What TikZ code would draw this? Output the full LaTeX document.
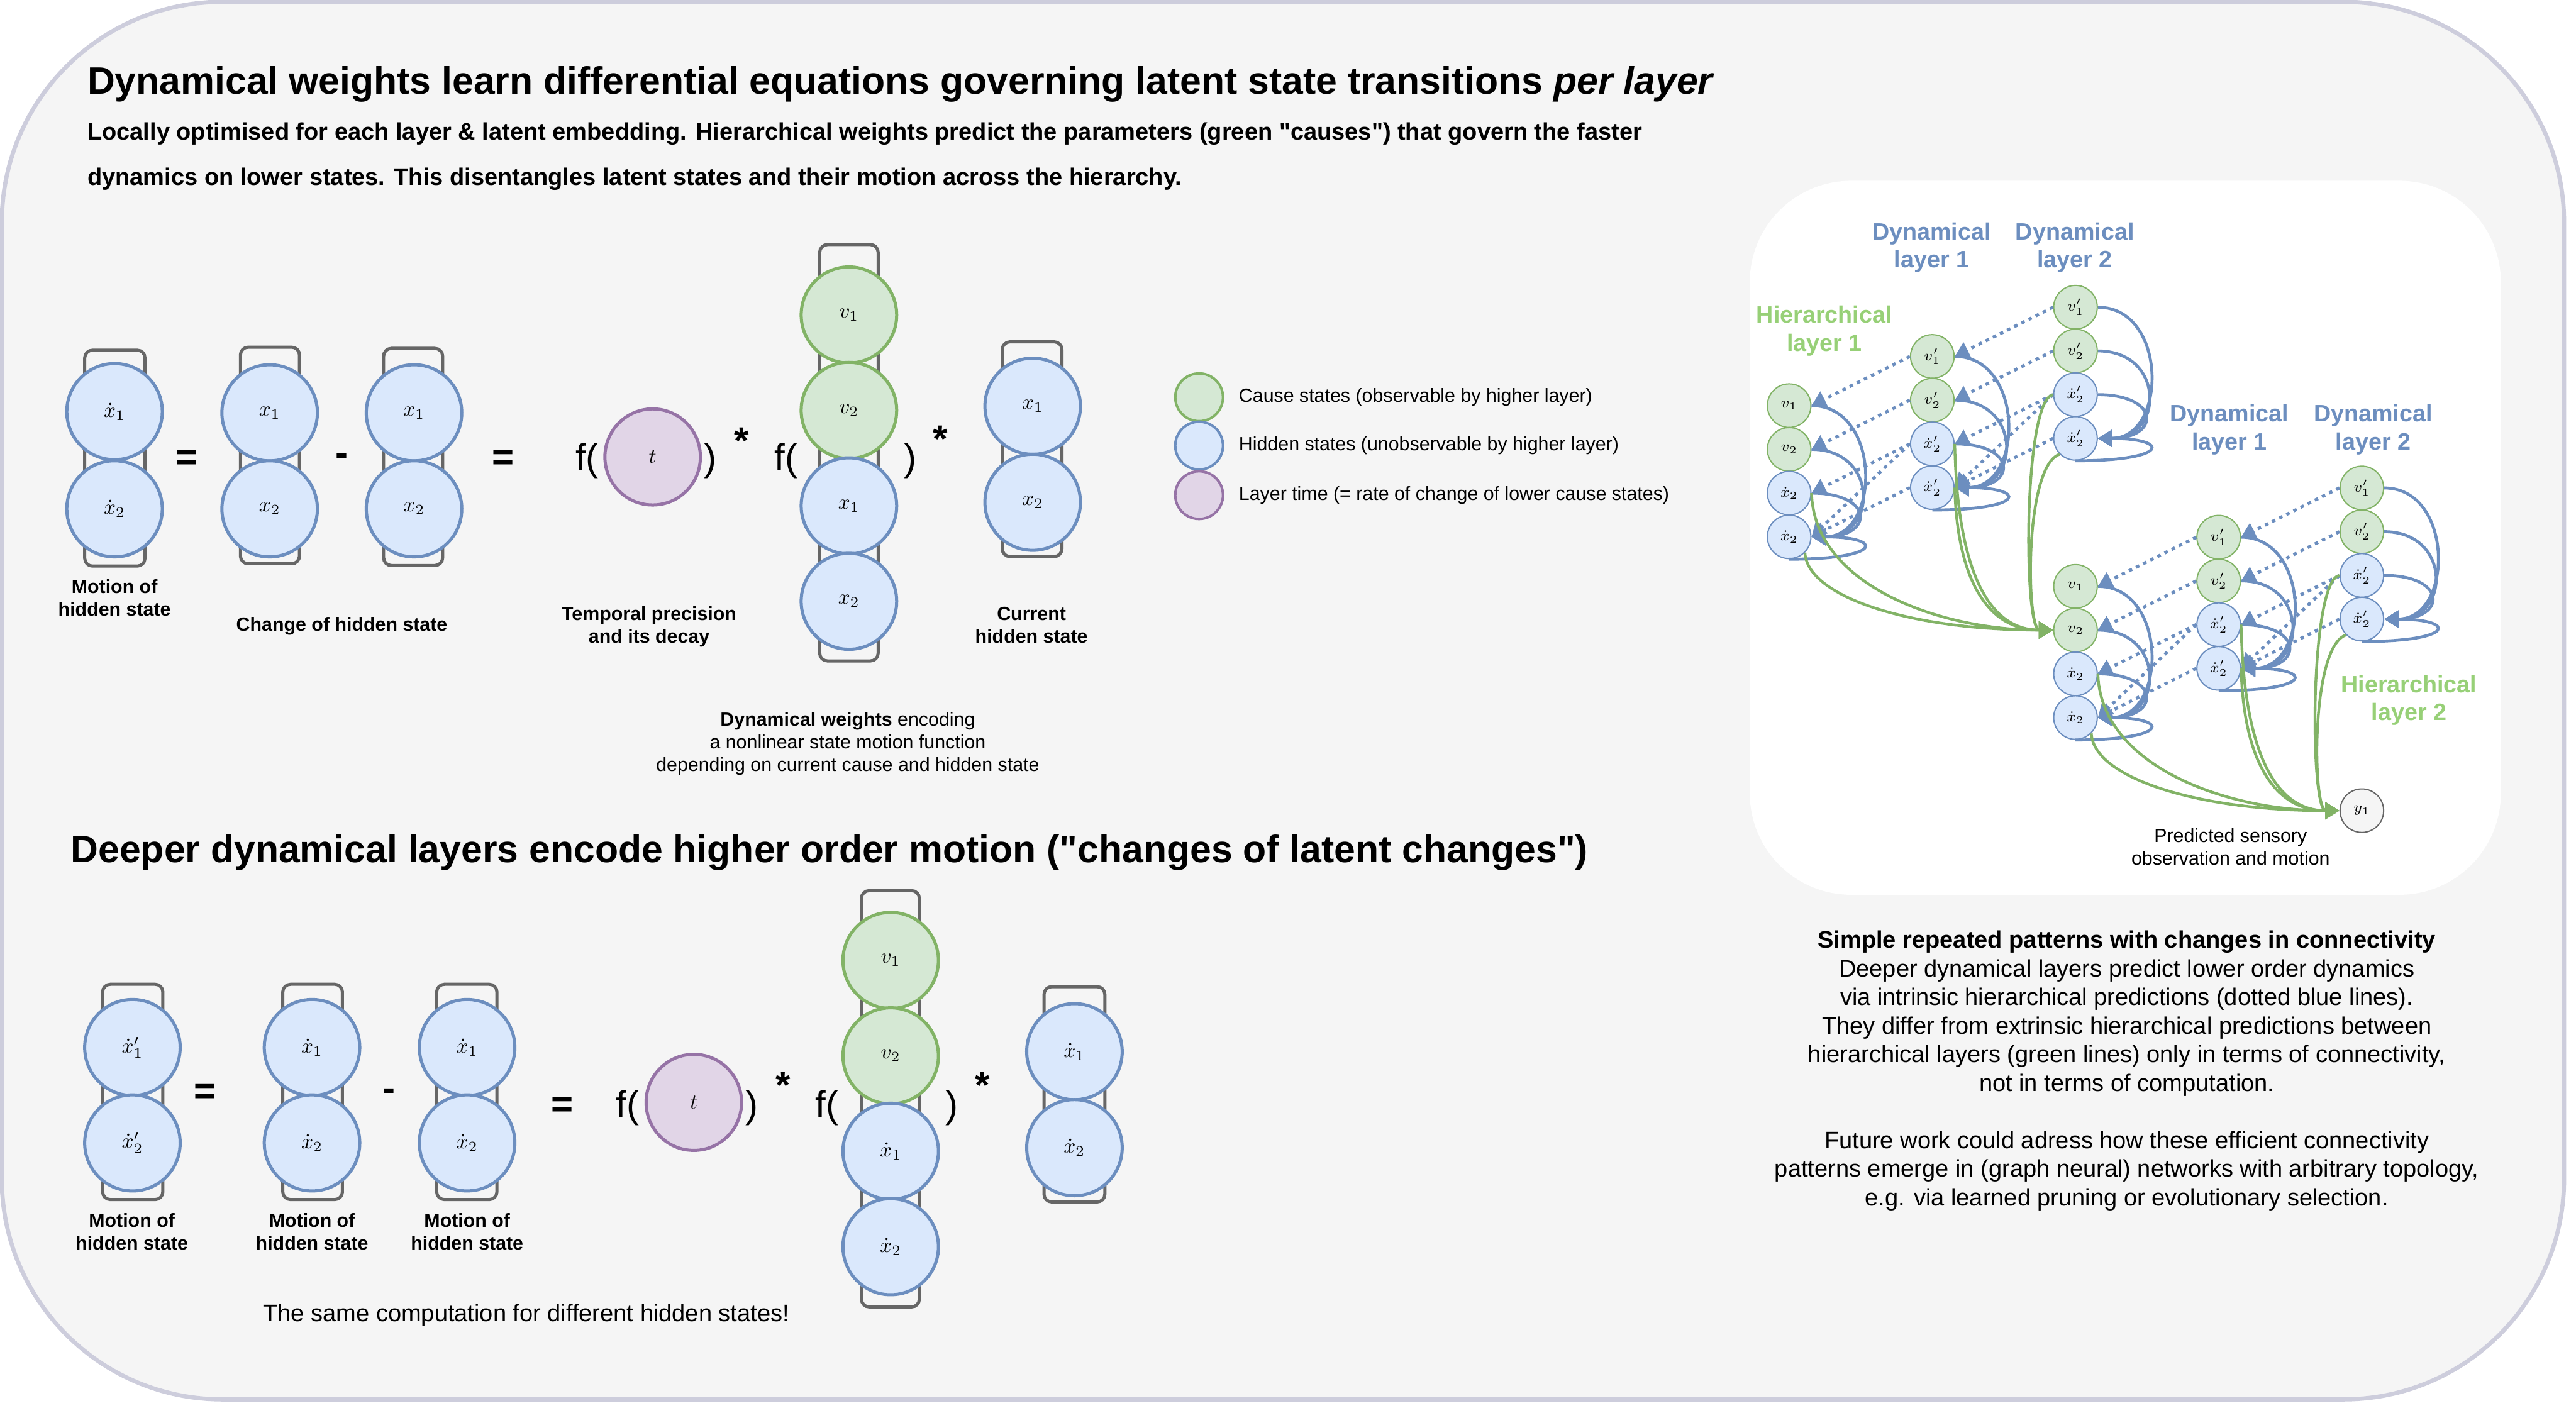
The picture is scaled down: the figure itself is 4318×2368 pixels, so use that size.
\documentclass[tikz,border=0pt]{standalone}
\usepackage[no-math]{fontspec}
\setmainfont{Liberation Sans}[Ligatures=TeXOff]
\usepackage{amsmath}
\usetikzlibrary{arrows.meta, shapes.geometric}

\definecolor{causefill}{HTML}{D5E8D4}
\definecolor{causeline}{HTML}{82B366}
\definecolor{hiddenfill}{HTML}{DAE8FC}
\definecolor{hiddenline}{HTML}{6C8EBF}
\definecolor{timefill}{HTML}{E1D5E7}
\definecolor{timeline}{HTML}{9673A6}
\definecolor{stackline}{HTML}{666666}
\definecolor{panelbg}{HTML}{F5F5F5}
\definecolor{panelrim}{HTML}{CDCDDC}
\definecolor{hierlabel}{HTML}{97D077}

\begin{document}
\begin{tikzpicture}[x=0.01cm, y=-0.01cm, >={Triangle[length=6.8pt, width=8pt]},
    cause/.style={ellipse, draw=causeline, fill=causefill, line width=1.5pt,
                  minimum width=1.6cm, minimum height=1.61cm, inner sep=0pt},
    hidden/.style={cause, draw=hiddenline, fill=hiddenfill},
    ltime/.style={cause, draw=timeline, fill=timefill},
    stack/.style={draw=stackline, line width=1.5pt, rounded corners=0.13cm},
    scause/.style={circle, draw=causeline, fill=causefill, line width=0.6pt,
                   minimum size=0.73cm, inner sep=0pt, font=\fontsize{7}{8}\selectfont},
    shidden/.style={scause, draw=hiddenline, fill=hiddenfill},
    sobs/.style={scause, draw=stackline, fill=panelbg},
    dyn/.style={->, draw=hiddenline, line width=1.4pt},
    intr/.style={dyn, line width=1.5pt, dash pattern=on 1.7pt off 2.1pt},
    extr/.style={->, draw=causeline, line width=1.3pt},
    headline/.style={font=\fontsize{18.2}{22}\selectfont\bfseries, anchor=base west, inner sep=0pt},
    subline/.style={font=\fontsize{11.4}{13.7}\selectfont\bfseries, anchor=base west, inner sep=0pt},
    lbl/.style={font=\fontsize{9.1}{10.8}\selectfont\bfseries, align=center, inner sep=0pt},
    smalltext/.style={font=\fontsize{9.1}{10.8}\selectfont, align=center, inner sep=0pt},
    bodytext/.style={font=\fontsize{11.4}{13.66}\selectfont, align=center, inner sep=0pt},
    layerlab/.style={font=\fontsize{11.3}{13.4}\selectfont\bfseries, align=center, inner sep=0pt},
    op/.style={font=\fontsize{18}{20}\selectfont\bfseries, inner sep=0pt},
    fn/.style={font=\fontsize{18}{20}\selectfont, inner sep=0pt}]

    \useasboundingbox (0,0) rectangle (4318,2368);

    % Background panels
    \draw[draw=panelrim, line width=2pt, fill=panelbg, rounded corners=3.7cm] (3,3) rectangle (4298,2346);
    \fill[white, rounded corners=1.7cm] (2933,303) rectangle (4192,1500);

    % Headlines
    \node[headline] (head1) at (146,158) {Dynamical weights learn differential equations governing latent state transitions \textit{per layer}};
    \node[subline] (sub1) at (146,235) {Locally optimised for each layer \& latent embedding. Hierarchical weights predict the parameters (green "causes") that govern the faster};
    \node[subline] (sub2) at (146,310) {dynamics on lower states. This disentangles latent states and their motion across the hierarchy.};
    \node[headline] (head2) at (118,1446) {Deeper dynamical layers encode higher order motion ("changes of latent changes")};

    % Row 1: motion of hidden state
    \draw[stack] (142,587) rectangle (243,949);
    \node[hidden] (pA1) at (192,690) {$\dot{x}_1$};
    \node[hidden] (pA2) at (192,853) {$\dot{x}_2$};
    \node[lbl] (pAlab) at (192,1002) {Motion of\\hidden state};
    \node[op] (peq1) at (313,772) {=};

    % Row 1: change of hidden state
    \draw[stack] (403,582) rectangle (502,945);
    \node[hidden] (pB1) at (452,692) {$x_1$};
    \node[hidden] (pB2) at (452,853) {$x_2$};
    \node[op] (pminus) at (573,771) {-};
    \draw[stack] (643,584) rectangle (742,948);
    \node[hidden] (pC1) at (694,692) {$x_1$};
    \node[hidden] (pC2) at (694,853) {$x_2$};
    \node[lbl] (pBlab) at (573,1050) {Change of hidden state};
    \node[op] (peq2) at (843,772) {=};

    % Row 1: temporal precision
    \node[fn] (pf1) at (984,773) {f(};
    \node[ltime] (pT) at (1094,766) {$t$};
    \node[fn] (pc1) at (1191,773) {)};
    \node[op] (pst1) at (1243,739) {*};
    \node[lbl] (pTlab) at (1088,1051) {Temporal precision\\and its decay};

    % Row 1: dynamical weights
    \node[fn] (pf2) at (1318,773) {f(};
    \draw[stack] (1374,410) rectangle (1472,1108);
    \node[cause] (pD1) at (1423,528) {$v_1$};
    \node[cause] (pD2) at (1423,688) {$v_2$};
    \node[hidden] (pD3) at (1423,848) {$x_1$};
    \node[hidden] (pD4) at (1423,1008) {$x_2$};
    \node[fn] (pc2) at (1526,773) {)};
    \node[op] (pst2) at (1576,736) {*};
    \node[smalltext] (pDlab) at (1421,1247) {\textbf{Dynamical weights} encoding\\a nonlinear state motion function\\depending on current cause and hidden state};

    % Row 1: current hidden state
    \draw[stack] (1680,573) rectangle (1780,933);
    \node[hidden] (pE1) at (1731,681) {$x_1$};
    \node[hidden] (pE2) at (1731,842) {$x_2$};
    \node[lbl] (pElab) at (1729,1048) {Current\\hidden state};

    % Legend
    \node[cause, minimum width=0.8cm, minimum height=0.8cm, line width=1.2pt] (legc) at (2010,666) {};
    \node[hidden, minimum width=0.8cm, minimum height=0.8cm, line width=1.2pt] (legh) at (2010,747) {};
    \node[ltime, minimum width=0.8cm, minimum height=0.8cm, line width=1.2pt] (legt) at (2010,830) {};
    \node[smalltext, anchor=west] (legctext) at (2076,666) {Cause states (observable by higher layer)};
    \node[smalltext, anchor=west] (leghtext) at (2076,747) {Hidden states (unobservable by higher layer)};
    \node[smalltext, anchor=west] (legttext) at (2076,830) {Layer time (= rate of change of lower cause states)};

    % Row 2: motion of motion
    \draw[stack] (172,1650) rectangle (273,2011);
    \node[hidden] (qA1) at (222,1756) {${\dot{x}_1}'$};
    \node[hidden] (qA2) at (222,1916) {${\dot{x}_2}'$};
    \node[lbl] (qAlab) at (221,2065) {Motion of\\hidden state};
    \node[op] (qeq1) at (344,1834) {=};
    \draw[stack] (474,1650) rectangle (574,2011);
    \node[hidden] (qB1) at (523,1756) {$\dot{x}_1$};
    \node[hidden] (qB2) at (523,1916) {$\dot{x}_2$};
    \node[lbl] (qBlab) at (523,2065) {Motion of\\hidden state};
    \node[op] (qminus) at (652,1835) {-};
    \draw[stack] (732,1650) rectangle (833,2011);
    \node[hidden] (qC1) at (783,1756) {$\dot{x}_1$};
    \node[hidden] (qC2) at (783,1916) {$\dot{x}_2$};
    \node[lbl] (qClab) at (783,2065) {Motion of\\hidden state};
    \node[op] (qeq2) at (943,1856) {=};

    % Row 2: temporal precision and dynamical weights
    \node[fn] (qf1) at (1052,1857) {f(};
    \node[ltime] (qT) at (1163,1848) {$t$};
    \node[fn] (qc1) at (1260,1857) {)};
    \node[op] (qst1) at (1313,1819) {*};
    \node[fn] (qf2) at (1386,1857) {f(};
    \draw[stack] (1444,1493) rectangle (1541,2191);
    \node[cause] (qD1) at (1493,1610) {$v_1$};
    \node[cause] (qD2) at (1493,1770) {$v_2$};
    \node[hidden] (qD3) at (1493,1930) {$\dot{x}_1$};
    \node[hidden] (qD4) at (1493,2090) {$\dot{x}_2$};
    \node[fn] (qc2) at (1595,1857) {)};
    \node[op] (qst2) at (1647,1819) {*};
    \draw[stack] (1750,1654) rectangle (1852,2015);
    \node[hidden] (qE1) at (1801,1763) {$\dot{x}_1$};
    \node[hidden] (qE2) at (1801,1924) {$\dot{x}_2$};
    \node[bodytext] (qnote) at (882,2205) {The same computation for different hidden states!};

    % Network: hierarchical layers with three dynamical layers each
    \foreach \hl/\hx/\hy in {1/2999/680, 2/3479/983}{
      \begin{scope}[shift={(\hx,\hy)}]
        \node[scause]  (g\hl c0r0) at (0,0)       {$v_1$};
        \node[scause]  (g\hl c0r1) at (0,73.3)    {$v_2$};
        \node[shidden] (g\hl c0r2) at (0,146.6)   {$\dot{x}_2$};
        \node[shidden] (g\hl c0r3) at (0,219.9)   {$\dot{x}_2$};
        \node[scause]  (g\hl c1r0) at (240,-82.5) {$v'_1$};
        \node[scause]  (g\hl c1r1) at (240,-9.2)  {$v'_2$};
        \node[shidden] (g\hl c1r2) at (240,64.1)  {$\dot{x}'_2$};
        \node[shidden] (g\hl c1r3) at (240,137.4) {$\dot{x}'_2$};
        \node[scause]  (g\hl c2r0) at (480,-165)  {$v'_1$};
        \node[scause]  (g\hl c2r1) at (480,-91.7) {$v'_2$};
        \node[shidden] (g\hl c2r2) at (480,-18.4) {$\dot{x}'_2$};
        \node[shidden] (g\hl c2r3) at (480,54.9)  {$\dot{x}'_2$};
      \end{scope}
    }
    \node[sobs] (y1) at (3959,1359) {$y_1$};

    % Network labels
    \node[layerlab, text=hiddenline] (dl11) at (3238,415) {Dynamical\\layer 1};
    \node[layerlab, text=hiddenline] (dl12) at (3478,415) {Dynamical\\layer 2};
    \node[layerlab, text=hiddenline] (dl21) at (3737,720) {Dynamical\\layer 1};
    \node[layerlab, text=hiddenline] (dl22) at (3978,720) {Dynamical\\layer 2};
    \node[layerlab, text=hierlabel] (hl1) at (3058,555) {Hierarchical\\layer 1};
    \node[layerlab, text=hierlabel] (hl2) at (4038,1174) {Hierarchical\\layer 2};
    \node[smalltext] (ylab) at (3739,1420) {Predicted sensory\\observation and motion};

    % Network connections
    \foreach \hl/\tgt in {1/g2c0r1, 2/y1}{
      % Intrinsic predictions between dynamical layers
      \foreach \src/\dst in {1/0, 2/1}{
        \foreach \row in {0,1,2,3}
          \draw[intr] (g\hl c\src r\row.west) -- (g\hl c\dst r\row.east);
        \draw[intr] (g\hl c\src r2.west) -- (g\hl c\dst r3.east);
      }
      % Motion within each dynamical layer
      \foreach \dl in {0,1,2}{
        \draw[dyn] (g\hl c\dl r0.east) .. controls +(117,0) and +(117,0) .. (g\hl c\dl r3.east);
        \draw[dyn] (g\hl c\dl r1.east) .. controls +(112,0) and +(112,0) .. (g\hl c\dl r3.east);
        \draw[dyn] (g\hl c\dl r2.east) .. controls +(105,0) and +(105,0) .. (g\hl c\dl r3.east);
        \draw[dyn] (g\hl c\dl r3.south) .. controls +(159,0) and +(122,0) .. (g\hl c\dl r3.east);
      }
      % Extrinsic predictions to the next hierarchical layer
      \draw[extr] (g\hl c0r2.east) .. controls +(4,153) and +(-192,0) .. (\tgt.west);
      \draw[extr] (g\hl c0r3.-45) .. controls +(3,73) and +(-242,0) .. (\tgt.west);
      \draw[extr] (g\hl c1r2.east) .. controls +(4,204) and +(-112,0) .. (\tgt.west);
      \draw[extr] (g\hl c1r3.east) .. controls +(4,150) and +(-112,0) .. (\tgt.west);
      \draw[extr] (g\hl c2r2.west) .. controls +(-50,8) and +(-50,0) .. (\tgt.west);
      \draw[extr] (g\hl c2r3.-135) .. controls +(-60,20) and +(-45,0) .. (\tgt.west);
    }

    % Summary text
    \node[bodytext] (sumtext) at (3565,1699) {\textbf{Simple repeated patterns with changes in connectivity}\\Deeper dynamical layers predict lower order dynamics\\via intrinsic hierarchical predictions (dotted blue lines).\\They differ from extrinsic hierarchical predictions between\\hierarchical layers (green lines) only in terms of connectivity,\\not in terms of computation.};
    \node[bodytext] (futtext) at (3565,1963) {Future work could adress how these efficient connectivity\\patterns emerge in (graph neural) networks with arbitrary topology,\\e.g. via learned pruning or evolutionary selection.};

\end{tikzpicture}
\end{document}
